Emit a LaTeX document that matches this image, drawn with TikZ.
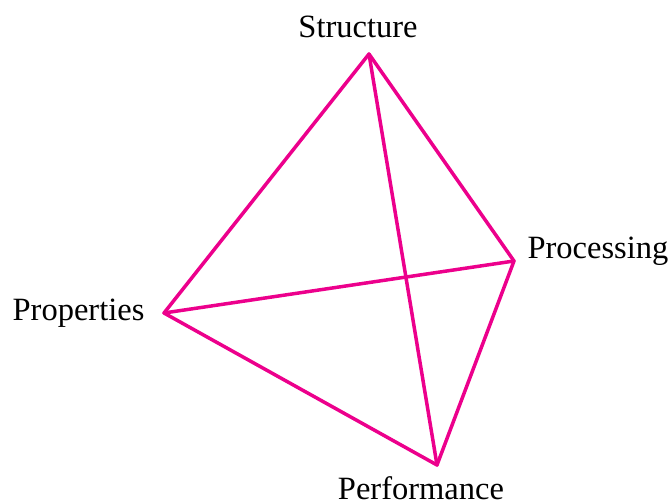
\documentclass[tikz,border=0pt]{standalone}
\usepackage{fontspec}
\setmainfont{Liberation Serif}
\usetikzlibrary{positioning}
\definecolor{tetra}{RGB}{236,0,140}

\begin{document}
\begin{tikzpicture}[x=1pt,y=-1pt, edge/.style={tetra,line width=3.5pt,line join=round,line cap=round},
	lbl/.style={anchor=base,inner sep=0pt,font=\fontsize{32.5}{40}\selectfont}]
				\useasboundingbox (0,0) rectangle (670,501);
				% corners of the tetrahedron
				\coordinate (str) at (369,54);
				\coordinate (proc) at (514,261);
				\coordinate (prop) at (164,313);
				\coordinate (perf) at (437,465);
				
				\node[lbl] (strLbl) at (358,37) {Structure};
				\node[lbl] (procLbl) at (598,258) {Processing};
				\node[lbl] (propLbl) at (78.5,320) {Properties};
				\node[lbl] (perfLbl) at (421,499) {Performance};
				
				\draw[edge] (str) -- (proc) -- (perf) -- (prop) -- cycle;
				\draw[edge] (str) -- (perf);
				\draw[edge] (prop) -- (proc);
				\end{tikzpicture}
\end{document}
